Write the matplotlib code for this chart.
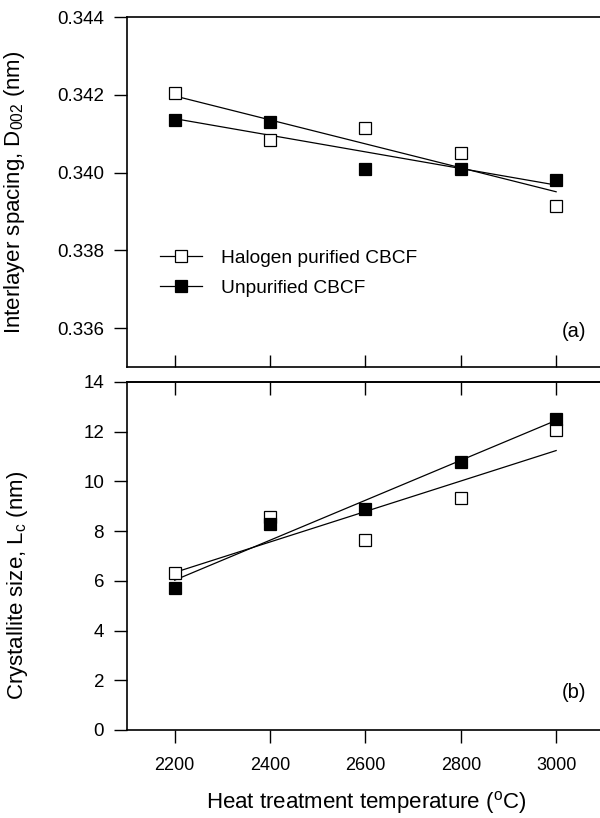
import numpy as np
import matplotlib
matplotlib.use("Agg")
import matplotlib.pyplot as plt

plt.rcParams['font.family'] = ['Liberation Sans', 'DejaVu Sans']
plt.rcParams['mathtext.fontset'] = 'custom'
plt.rcParams['mathtext.rm'] = 'Liberation Sans'
plt.rcParams['mathtext.it'] = 'Liberation Sans:italic'

# heat treatment temperatures (C)
temps = [2200, 2400, 2600, 2800, 3000]

# (a) interlayer spacing d002 (nm)
d002_halogen = [0.34205, 0.34085, 0.34115, 0.34049, 0.33915]
d002_unpurified = [0.34135, 0.34131, 0.34008, 0.34010, 0.33982]

# (b) crystallite size Lc (nm)
lc_halogen = [6.33, 8.55, 7.66, 9.35, 12.06]
lc_unpurified = [5.73, 8.27, 8.91, 10.80, 12.50]

labels = ["Halogen purified CBCF", "Unpurified CBCF"]

fig = plt.figure(figsize=(6.0, 8.18), dpi=100)
W, H = 600, 818
left = 127 / W
ax1 = fig.add_axes([left, 1 - 367 / H, 1 - left, (367 - 17) / H])
ax2 = fig.add_axes([left, 1 - 730 / H, 1 - left, (730 - 382) / H])

def draw(ax, yh, yu):
    x = np.array(temps, dtype=float)
    for ys, face, lab in [(yh, 'white', labels[0]), (yu, 'black', labels[1])]:
        p = np.polyfit(x, ys, 1)
        ax.plot(x, np.polyval(p, x), color='black', lw=0.9, zorder=2)
        ax.plot(x, ys, ls='none', marker='s', ms=8.5, mfc=face, mec='black',
                mew=0.9, zorder=3)
        # legend handle (line + marker)
        ax.plot([], [], color='black', lw=0.9, marker='s', ms=8.5, mfc=face,
                mec='black', mew=0.9, label=lab)
    ax.set_xlim(2100, 3092)
    ax.spines['right'].set_visible(False)
    for s in ['left', 'top', 'bottom']:
        ax.spines[s].set_linewidth(1.2)
    ax.set_xticks(temps)
    ax.tick_params(axis='y', direction='out', length=9.5, width=1, labelsize=13.5, pad=7)

draw(ax1, d002_halogen, d002_unpurified)
ax1.set_ylim(0.335, 0.344)
ax1.set_yticks([0.336, 0.338, 0.340, 0.342, 0.344])
ax1.set_yticklabels(["%.3f" % v for v in [0.336, 0.338, 0.340, 0.342, 0.344]])
ax1.tick_params(axis='x', direction='in', length=9, width=1, labelbottom=False)
ax1.set_ylabel("Interlayer spacing, D$_{002}$ (nm)", fontsize=16)
ax1.yaxis.set_label_coords(-0.211, 0.5)
ax1.text(0.944, 0.1, "(a)", transform=ax1.transAxes, fontsize=14.5,
         ha='center', va='center')
ax1.legend(loc='upper left', bbox_to_anchor=(0.07, 0.335), frameon=False,
           fontsize=13.8, handlelength=2.2, handletextpad=1.0, labelspacing=0.65,
           borderpad=0, borderaxespad=0)

draw(ax2, lc_halogen, lc_unpurified)
ax2.set_ylim(0, 14)
ax2.set_yticks(range(0, 15, 2))
ax2.tick_params(axis='x', which='major', direction='out', length=9.5, width=1,
                labelsize=13, pad=10, top=False)
ax2.set_ylabel("Crystallite size, L$_{\\rm c}$ (nm)", fontsize=16)
ax2.yaxis.set_label_coords(-0.205, 0.417)
ax2.set_xlabel("Heat treatment temperature ($^{\\rm o}$C)", fontsize=16)
ax2.xaxis.set_label_coords(0.505, -0.17)
ax2.text(0.944, 0.109, "(b)", transform=ax2.transAxes, fontsize=14.5,
         ha='center', va='center')

# inward ticks hanging from the top edge of panel (b)
sec = ax2.secondary_xaxis('top')
sec.set_xticks(temps)
sec.tick_params(direction='in', length=9, width=1, labeltop=False)
sec.spines['top'].set_linewidth(1.2)

fig.savefig("out.png", dpi=100)
